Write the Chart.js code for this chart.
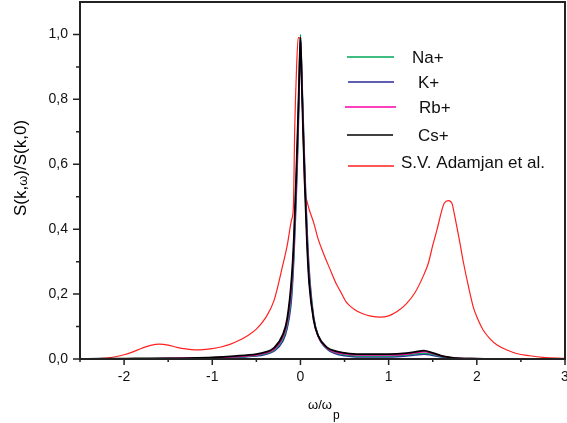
<!DOCTYPE html>
<html>
<head>
<meta charset="utf-8">
<script src="https://cdn.jsdelivr.net/npm/chart.js@4.4.0/dist/chart.umd.min.js"></script>
<style>
  body { margin: 0; background: #fff; }
  canvas { display: block; }
</style>
</head>
<body>
<canvas id="spectrum" width="567" height="423"></canvas>
<script>
// omega / omega_p grid shared by the four ion curves
const omega = [-2.5, -2.25, -2, -1.75, -1.5, -1.25, -1, -0.75, -0.5, -0.4, -0.3, -0.2, -0.15, -0.1, -0.075, -0.05, -0.03, -0.015,
  0, 0.015, 0.03, 0.05, 0.075, 0.1, 0.15, 0.2, 0.3, 0.4, 0.5, 0.6, 0.8, 1.0, 1.2, 1.3, 1.4, 1.5, 1.6, 1.7, 1.8, 2.0, 2.25, 2.5, 2.75, 3.0];

const naPlus = [0, 0, 0.001, 0.001, 0.002, 0.002, 0.004, 0.006, 0.011, 0.016, 0.027, 0.062, 0.105, 0.21, 0.33, 0.51, 0.68, 0.84,
  1.0, 0.87, 0.73, 0.56, 0.38, 0.25, 0.125, 0.072, 0.033, 0.019, 0.013, 0.010, 0.009, 0.009, 0.012, 0.016, 0.018, 0.014, 0.008, 0.004, 0.002, 0.001, 0, 0, 0, 0];

const kPlus = [0, 0, 0, 0.001, 0.001, 0.002, 0.003, 0.005, 0.009, 0.014, 0.024, 0.055, 0.095, 0.19, 0.31, 0.48, 0.65, 0.82,
  0.985, 0.88, 0.75, 0.58, 0.40, 0.27, 0.13, 0.072, 0.031, 0.016, 0.010, 0.007, 0.006, 0.006, 0.009, 0.012, 0.0145, 0.011, 0.006, 0.003, 0.001, 0, 0, 0, 0, 0];

const rbPlus = [0, 0, 0.001, 0.001, 0.002, 0.003, 0.004, 0.007, 0.012, 0.018, 0.030, 0.068, 0.115, 0.23, 0.35, 0.53, 0.70, 0.85,
  0.99, 0.86, 0.72, 0.55, 0.37, 0.24, 0.12, 0.070, 0.034, 0.021, 0.016, 0.013, 0.012, 0.012, 0.015, 0.019, 0.022, 0.017, 0.009, 0.004, 0.002, 0.001, 0, 0, 0, 0];

const csPlus = [0, 0.001, 0.001, 0.002, 0.002, 0.003, 0.005, 0.009, 0.015, 0.021, 0.034, 0.075, 0.125, 0.25, 0.37, 0.55, 0.72, 0.86,
  0.99, 0.85, 0.70, 0.53, 0.35, 0.23, 0.12, 0.072, 0.036, 0.024, 0.019, 0.016, 0.015, 0.015, 0.018, 0.022, 0.026, 0.019, 0.010, 0.005, 0.002, 0.001, 0, 0, 0, 0];

// S.V. Adamjan et al. curve, own grid
const adamjanOmega = [-2.5, -2.3, -2.2, -2.1, -2.0, -1.9, -1.8, -1.7, -1.6, -1.5, -1.4, -1.3, -1.2, -1.1, -1.0, -0.9, -0.8, -0.7, -0.6,
  -0.5, -0.4, -0.3, -0.2, -0.15, -0.1, -0.08, -0.065, -0.045, -0.025, -0.01, 0.01, 0.03, 0.05, 0.07, 0.1, 0.15, 0.2, 0.26, 0.33,
  0.4, 0.45, 0.52, 0.6, 0.7, 0.8, 0.9, 1.0, 1.1, 1.2, 1.3, 1.4, 1.45, 1.5, 1.55, 1.6, 1.63, 1.68, 1.72, 1.75, 1.8, 1.85, 1.9,
  1.96, 2.0, 2.07, 2.15, 2.23, 2.35, 2.45, 2.6, 2.75, 3.0];
const adamjan = [0, 0.001, 0.003, 0.007, 0.013, 0.022, 0.033, 0.042, 0.046, 0.043, 0.036, 0.031, 0.028, 0.029, 0.032, 0.037, 0.045, 0.057, 0.072,
  0.092, 0.125, 0.18, 0.29, 0.35, 0.43, 0.47, 0.71, 0.89, 0.99, 0.99, 0.90, 0.70, 0.52, 0.49, 0.46, 0.42, 0.37, 0.326, 0.28,
  0.235, 0.21, 0.175, 0.155, 0.14, 0.132, 0.129, 0.133, 0.147, 0.17, 0.205, 0.26, 0.295, 0.35, 0.40, 0.455, 0.48, 0.488, 0.478, 0.44, 0.37, 0.295, 0.23,
  0.16, 0.13, 0.09, 0.062, 0.043, 0.027, 0.017, 0.01, 0.005, 0.002];

const seriesNames = ['Na+', 'K+', 'Rb+', 'Cs+', 'S.V. Adamjan et al.'];
const seriesColors = ['#00a859', '#2a2a9c', '#ff00a8', '#000000', '#ff2020'];

function points(xs, ys) {
  return xs.map((x, i) => ({ x: x, y: ys[i] }));
}

const frameAndLegend = {
  id: 'frameAndLegend',
  afterDraw(chart) {
    const ctx = chart.ctx;
    const xs = chart.scales.x;
    const ys = chart.scales.y;
    const left = xs.getPixelForValue(-2.5), right = xs.getPixelForValue(3);
    const top = ys.getPixelForValue(1.1), bottom = ys.getPixelForValue(0);

    ctx.save();
    ctx.strokeStyle = '#222';
    ctx.lineWidth = 2;
    ctx.strokeRect(left, top, right - left, bottom - top);

    // tick marks, major longer than minor
    ctx.lineWidth = 1.5;
    ctx.beginPath();
    xs.ticks.forEach(t => {
      const px = xs.getPixelForValue(t.value);
      const major = Math.abs(t.value - Math.round(t.value)) < 1e-6;
      ctx.moveTo(px, bottom);
      ctx.lineTo(px, bottom + (major ? 6 : 3));
    });
    ys.ticks.forEach(t => {
      if (t.value > 1.05) return;
      const py = ys.getPixelForValue(t.value);
      const major = Math.round(t.value * 10) % 2 === 0;
      ctx.moveTo(left - (major ? 7 : 4), py);
      ctx.lineTo(left, py);
    });
    ctx.stroke();

    // axis titles
    ctx.fillStyle = '#000';
    ctx.textBaseline = 'middle';
    ctx.textAlign = 'left';
    const big = '17px "Liberation Sans", Arial, sans-serif';
    const small = '13px "Liberation Sans", Arial, sans-serif';
    ctx.font = small;
    let x0 = 308;
    ctx.fillText('ω/ω', x0, 405);
    x0 += ctx.measureText('ω/ω').width;
    ctx.font = '12px "Liberation Sans", Arial, sans-serif';
    ctx.fillText('p', x0 + 1, 416);

    ctx.save();
    ctx.translate(21, 168);
    ctx.rotate(-Math.PI / 2);
    const parts = [['S(k,', big], ['ω', small], [')/S(k,0)', big]];
    let total = 0;
    parts.forEach(p => { ctx.font = p[1]; total += ctx.measureText(p[0]).width; });
    let cx = -total / 2;
    parts.forEach(p => {
      ctx.font = p[1];
      ctx.fillText(p[0], cx, p[1] === small ? 2 : 0);
      cx += ctx.measureText(p[0]).width;
    });
    ctx.restore();

    // legend
    const legendRows = [
      { y: 57, x1: 347, x2: 394, tx: 412 },
      { y: 82, x1: 348, x2: 394, tx: 418 },
      { y: 107, x1: 345, x2: 396, tx: 419 },
      { y: 135, x1: 347, x2: 393, tx: 418 },
      { y: 166, x1: 348, x2: 394, tx: 401 }
    ];
    ctx.font = '17px "Liberation Sans", Arial, sans-serif';
    legendRows.forEach((r, i) => {
      ctx.strokeStyle = seriesColors[i];
      ctx.lineWidth = 1.5;
      ctx.beginPath();
      ctx.moveTo(r.x1, r.y);
      ctx.lineTo(r.x2, r.y);
      ctx.stroke();
      ctx.fillStyle = '#111';
      ctx.fillText(seriesNames[i], r.tx, i === 4 ? r.y - 3 : r.y + 1);
    });
    ctx.restore();
  }
};

const ionData = [naPlus, kPlus, rbPlus, csPlus];
const drawOrder = [3, 4, 2, 1, 5];

const datasets = ionData.map((vals, i) => ({
  label: seriesNames[i],
  data: points(omega, vals),
  borderColor: seriesColors[i],
  borderWidth: i === 3 ? 1.8 : 1.5,
  order: drawOrder[i]
}));
datasets.push({
  label: seriesNames[4],
  data: points(adamjanOmega, adamjan),
  borderColor: seriesColors[4],
  borderWidth: 1.2,
  order: drawOrder[4]
});

const ctx = document.getElementById('spectrum').getContext('2d');
const chart = new Chart(ctx, {
  type: 'line',
  data: { datasets: datasets },
  plugins: [frameAndLegend],
  options: {
    responsive: false,
    animation: false,
    events: [],
    elements: {
      point: { radius: 0 },
      line: { cubicInterpolationMode: 'monotone', fill: false }
    },
    layout: {
      autoPadding: false,
      padding: { top: 2, right: 2, left: 0, bottom: 0 }
    },
    plugins: {
      legend: { display: false },
      tooltip: { enabled: false },
      title: { display: false }
    },
    scales: {
      x: {
        type: 'linear',
        min: -2.5,
        max: 3,
        afterFit(scale) {
          scale.height = 64;
          scale.paddingLeft = 0;
          scale.paddingRight = 0;
        },
        grid: { display: false, drawTicks: false },
        border: { display: false },
        ticks: {
          stepSize: 0.5,
          autoSkip: false,
          maxRotation: 0,
          padding: 10,
          color: '#111',
          font: { family: '"Liberation Sans", Arial, sans-serif', size: 14 },
          callback: function (v) {
            return Math.abs(v - Math.round(v)) < 1e-6 ? String(Math.round(v)) : '';
          }
        }
      },
      y: {
        min: 0,
        max: 1.1,
        afterFit(scale) {
          scale.width = 80;
          scale.paddingTop = 0;
          scale.paddingBottom = 0;
        },
        grid: { display: false, drawTicks: false },
        border: { display: false },
        ticks: {
          stepSize: 0.1,
          autoSkip: false,
          padding: 12,
          color: '#111',
          font: { family: '"Liberation Sans", Arial, sans-serif', size: 14 },
          callback: function (v) {
            const n = Math.round(v * 10);
            if (n > 10 || n % 2 !== 0) return '';
            return (n / 10).toFixed(1).replace('.', ',');
          }
        }
      }
    }
  }
});
</script>
</body>
</html>
